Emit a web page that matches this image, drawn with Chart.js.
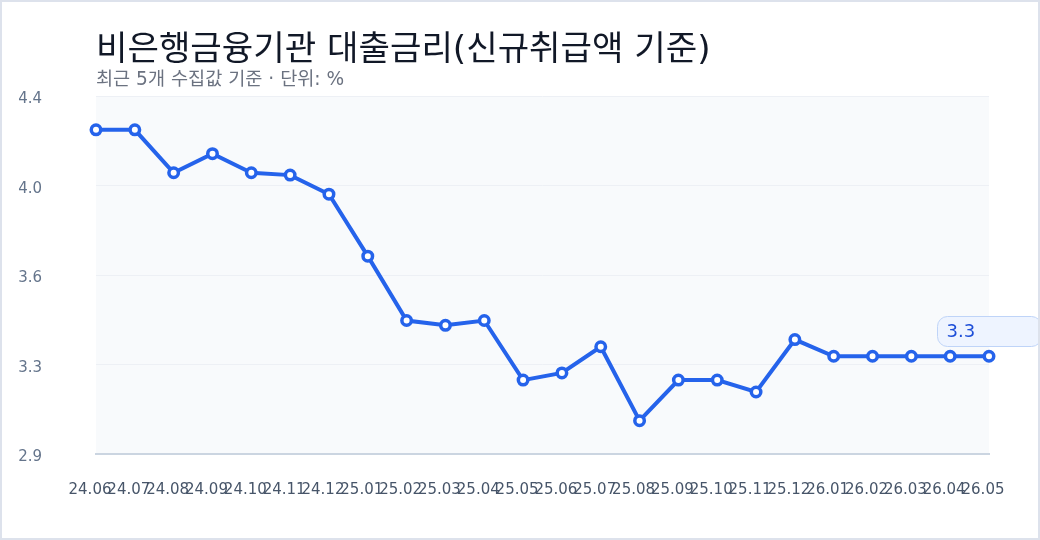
<!DOCTYPE html>
<html><head><meta charset="utf-8">
<script src="https://cdn.jsdelivr.net/npm/chart.js@4.4.1/dist/chart.umd.min.js"></script>
<style>
html,body{margin:0;padding:0;background:#fff;}
#card{position:absolute;left:0;top:0;width:1040px;height:540px;box-sizing:border-box;border:2px solid #dde2ec;background:#fff;}
#wrap{position:relative;width:1036px;height:536px;}
</style></head><body>
<div id="card"><div id="wrap"><canvas id="c"></canvas></div></div>
<script>
const titleText = "비은행금융기관 대출금리(신규취급액 기준)";
const subtitleText = "최근 5개 수집값 기준 · 단위: %";
const categories = ["24.06","24.07","24.08","24.09","24.10","24.11","24.12","25.01","25.02","25.03","25.04","25.05","25.06","25.07","25.08","25.09","25.10","25.11","25.12","26.01","26.02","26.03","26.04","26.05"];
const rates = [4.26,4.26,4.08,4.16,4.08,4.07,3.99,3.73,3.46,3.44,3.46,3.21,3.24,3.35,3.04,3.21,3.21,3.16,3.38,3.31,3.31,3.31,3.31,3.31];
const yTicks = [2.9, 3.275, 3.65, 4.025, 4.4];

const FONT = "'DejaVu Sans', 'Noto Sans CJK JP', sans-serif";

const plotBg = {
  id: 'plotBg',
  beforeDraw(chart) {
    const {ctx, chartArea: a} = chart;
    ctx.save();
    ctx.fillStyle = '#f8fafc';
    ctx.fillRect(a.left, a.top, a.right - a.left, a.bottom - a.top);
    ctx.restore();
  }
};

const lastLabel = {
  id: 'lastLabel',
  afterDatasetsDraw(chart) {
    const meta = chart.getDatasetMeta(0);
    const pt = meta.data[meta.data.length - 1];
    const ctx = chart.ctx;
    const txt = rates[rates.length - 1].toFixed(1);
    const x = Math.round(pt.x - 52) + 0.5, y = Math.round(pt.y - 40) + 0.5, w = 104, h = 30;
    ctx.save();
    ctx.beginPath();
    ctx.roundRect(x, y, w, h, 10);
    ctx.fillStyle = '#eef4ff';
    ctx.fill();
    ctx.lineWidth = 1;
    ctx.strokeStyle = '#bfd4f8';
    ctx.stroke();
    ctx.font = "18px " + FONT;
    ctx.fillStyle = '#1d4ed8';
    ctx.textAlign = 'left';
    ctx.textBaseline = 'middle';
    ctx.fillText(txt, x + 9, y + h / 2 + 1);
    ctx.restore();
  }
};

new Chart(document.getElementById('c'), {
  type: 'line',
  data: {
    labels: categories,
    datasets: [{
      data: rates,
      borderColor: '#2563eb',
      borderWidth: 4,
      tension: 0,
      pointRadius: 4.75,
      pointBackgroundColor: '#ffffff',
      pointBorderColor: '#2563eb',
      pointBorderWidth: 3.5,
      clip: false
    }]
  },
  options: {
    responsive: true,
    maintainAspectRatio: false,
    devicePixelRatio: 1,
    animation: false,
    layout: { padding: { top: 32.5, left: 0, right: 49, bottom: 0 } },
    plugins: {
      legend: { display: false },
      tooltip: { enabled: false },
      title: {
        display: true, text: titleText, align: 'start', fullSize: false,
        color: '#111827',
        font: { family: FONT, size: 34.2, weight: 400, lineHeight: 1.0 },
        padding: { top: 0, bottom: 0 }
      },
      subtitle: {
        display: true, text: subtitleText, align: 'start', fullSize: false,
        color: '#6b7280',
        font: { family: FONT, size: 18.6, weight: 400, lineHeight: 1.1 },
        padding: { top: 1.2, bottom: 6.1 }
      }
    },
    scales: {
      x: {
        offset: false,
        grid: { display: false },
        border: { display: true, color: '#cbd5e1', width: 2 },
        afterFit(scale) { scale.height = 84; },
        ticks: {
          autoSkip: false, maxRotation: 0, minRotation: 0,
          padding: 19, labelOffset: -6,
          color: '#475569',
          font: { family: FONT, size: 15 }
        }
      },
      y: {
        min: 2.9, max: 4.4,
        afterBuildTicks(scale) { scale.ticks = yTicks.map(v => ({ value: v })); },
        afterFit(scale) { scale.width = 94; },
        grid: { color: '#edf0f5', lineWidth: 1, drawTicks: false },
        border: { display: false },
        ticks: {
          padding: 54, labelOffset: 3,
          color: '#64748b',
          font: { family: FONT, size: 15 },
          callback: v => Number(v).toFixed(1)
        }
      }
    }
  },
  plugins: [plotBg, lastLabel]
});
</script>
</body></html>
